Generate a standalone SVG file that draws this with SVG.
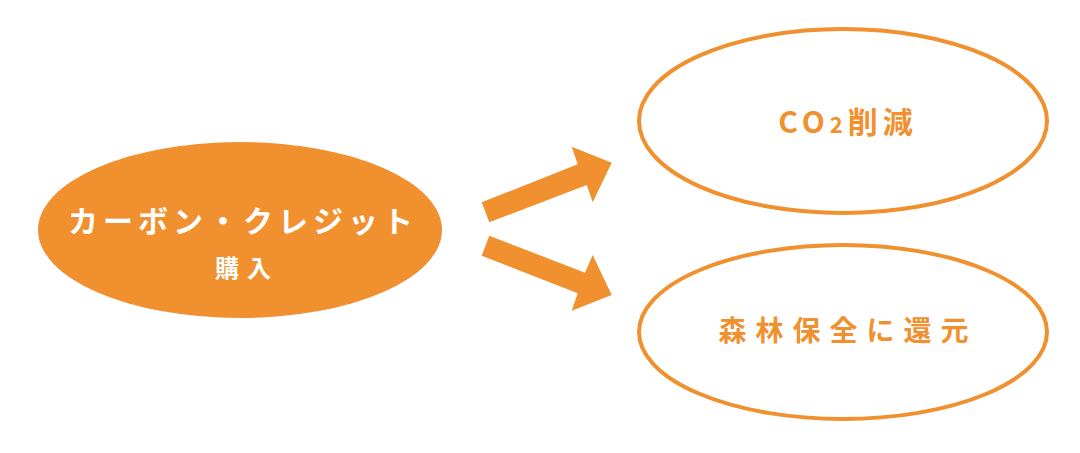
<svg xmlns="http://www.w3.org/2000/svg" width="1080" height="453" viewBox="0 0 1080 453">
<style>
.t{font-family:"Noto Sans CJK JP","Noto Sans",sans-serif;font-weight:bold;text-anchor:middle}
.o{fill:#fff;stroke:#F0902E;stroke-width:4}
</style>
<rect width="1080" height="453" fill="#fff"/>
<g id="n1"><ellipse cx="240" cy="230" rx="202" ry="88" fill="#F0902E"/>
<text class="t" x="243" y="232" font-size="30" letter-spacing="5" fill="#fff">カーボン・クレジット</text>
<text class="t" x="247" y="277" font-size="24" letter-spacing="8" fill="#fff">購入</text></g>
<g id="n2"><ellipse class="o" cx="843" cy="121" rx="204" ry="92"/>
<text class="t" x="848" y="133" font-size="30" letter-spacing="5" fill="#F0902E">CO<tspan font-size="22">2</tspan>削減</text></g>
<g id="n3"><ellipse class="o" cx="843" cy="332" rx="204" ry="87"/>
<text class="t" x="848" y="341" font-size="28" letter-spacing="9" fill="#F0902E">森林保全に還元</text></g>
<g id="connectors" fill="#F0902E">
<polygon points="481.7,202.3 577.7,164.3 571.7,146.7 611.7,162.7 592.7,202.3 586.7,185 489.3,222.3"/>
<polygon points="489.3,235.7 585,272.7 592.7,255 611.7,295 571.7,310.7 577.7,293.3 481.7,255.7"/>
</g>
</svg>
